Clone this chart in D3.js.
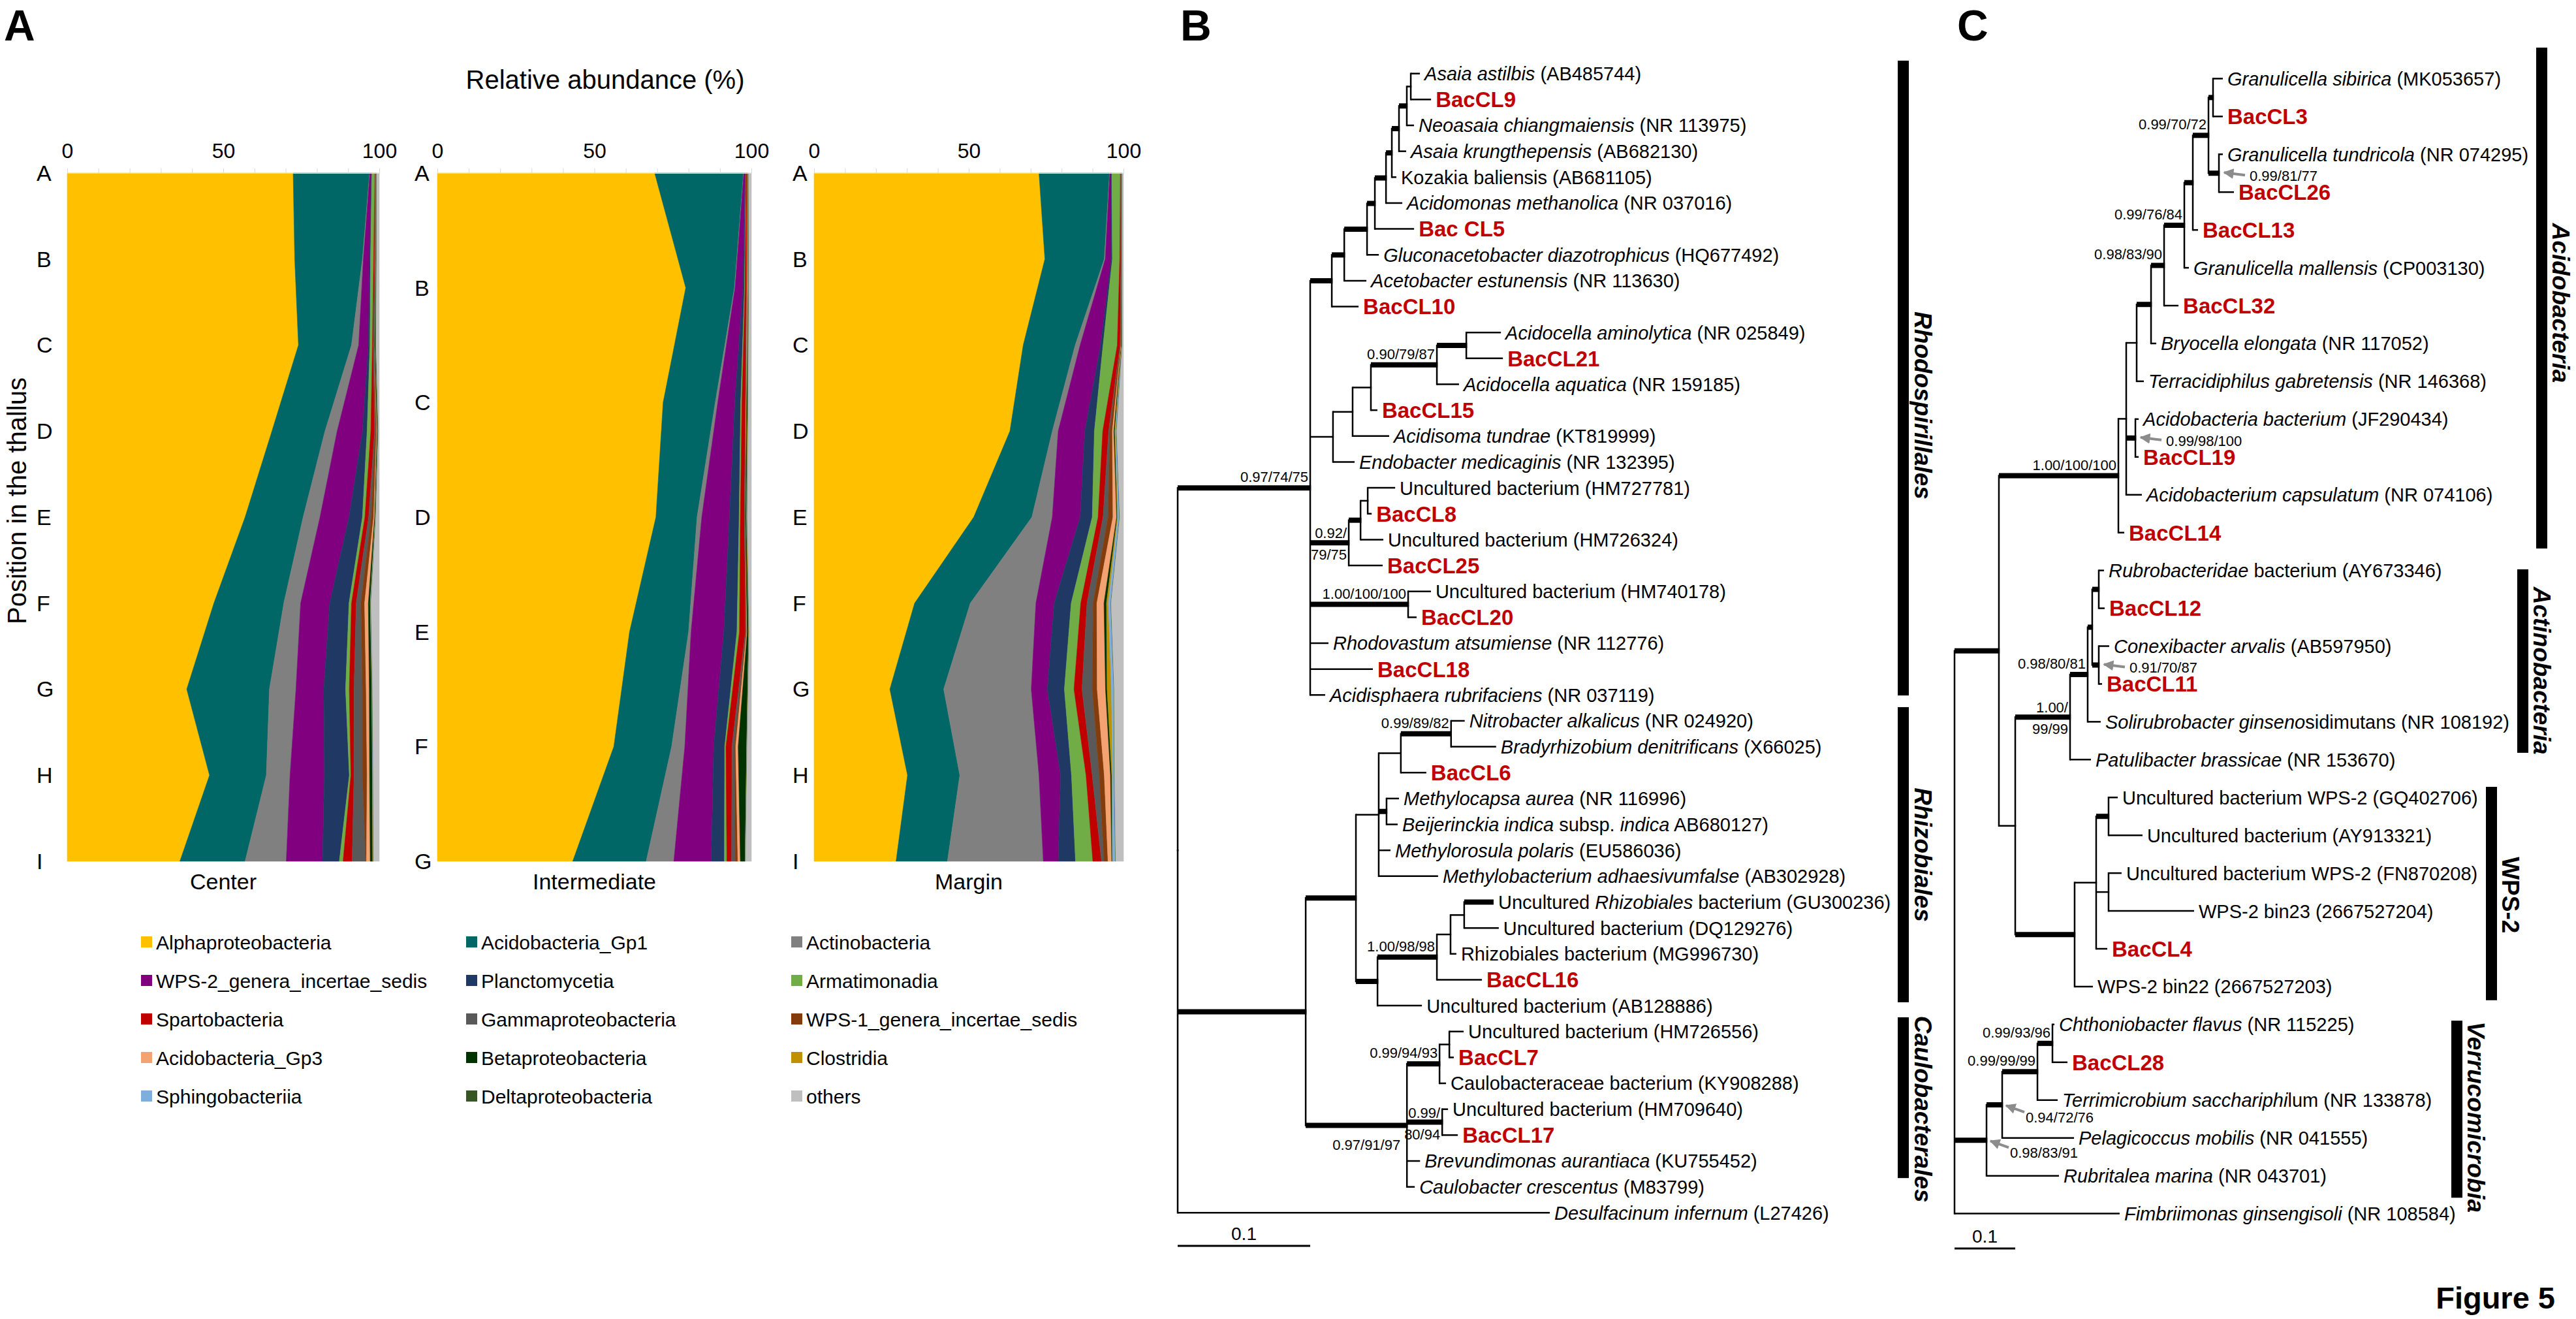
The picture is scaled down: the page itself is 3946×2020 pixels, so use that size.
<!DOCTYPE html>
<html><head><meta charset="utf-8">
<script src="https://cdn.jsdelivr.net/npm/d3@7"></script>
<style>body{margin:0;background:#fff;} svg{display:block;}</style>
</head><body>
<script>
// ================= DATA : panel A (relative abundance, %) =================
const categories = ["Alphaproteobacteria","Acidobacteria_Gp1","Actinobacteria","WPS-2_genera_incertae_sedis","Planctomycetia","Armatimonadia","Spartobacteria","Gammaproteobacteria","WPS-1_genera_incertae_sedis","Acidobacteria_Gp3","Betaproteobacteria","Clostridia","Sphingobacteriia","Deltaproteobacteria","others"];
const categoryColors = ["#FFC000","#006666","#808080","#800080","#1F3864","#70AD47","#C00000","#595959","#843C0C","#F4A272","#003300","#BF9000","#7FAEDC","#375623","#BFBFBF"];
const tickValues = [0, 50, 100];

const centerRows = ["A","B","C","D","E","F","G","H","I"];
const centerValues = [
  [72.4, 72.9, 74.1, 65.6, 57.0, 47.0, 38.3, 45.6, 36.1],
  [24.5, 21.7, 17.0, 17.0, 18.6, 22.4, 26.5, 18.2, 20.9],
  [0.1, 0.3, 2.3, 3.9, 5.4, 5.4, 8.5, 7.6, 13.2],
  [0.5, 2.0, 3.1, 8.1, 9.3, 9.3, 8.9, 11.0, 11.6],
  [0.1, 0.3, 0.5, 1.5, 4.3, 6.2, 7.0, 8.0, 5.4],
  [1.0, 1.0, 0.8, 1.2, 0.8, 0.8, 1.2, 0.5, 1.2],
  [0.1, 0.3, 0.3, 1.2, 1.2, 1.5, 1.5, 1.0, 2.9],
  [0.05, 0.1, 0.2, 0.3, 0.8, 1.5, 2.7, 2.7, 4.4],
  [0.05, 0.1, 0.1, 0.3, 0.8, 1.2, 1.2, 1.5, 0.2],
  [0.05, 0.05, 0.1, 0.2, 0.3, 1.2, 1.0, 0.8, 1.2],
  [0.1, 0.2, 0.3, 0.2, 0.2, 0.6, 0.8, 0.9, 0.8],
  [0.05, 0.05, 0.05, 0.05, 0.05, 0.05, 0.05, 0.05, 0.05],
  [0.05, 0.05, 0.05, 0.05, 0.05, 0.1, 0.1, 0.1, 0.1],
  [0.1, 0.1, 0.1, 0.1, 0.1, 0.1, 0.1, 0.1, 0.1],
  [0.85, 0.85, 1.0, 0.3, 1.1, 2.65, 2.15, 1.95, 1.85]
];

const intermediateRows = ["A","B","C","D","E","F","G"];
const intermediateValues = [
  [69.2, 79.1, 71.9, 69.6, 61.2, 56.2, 43.1],
  [28.3, 15.5, 16.6, 13.1, 18.8, 18.4, 23.4],
  [0.1, 0.2, 0.8, 1.5, 0.8, 4.2, 8.8],
  [0.4, 2.5, 5.4, 8.8, 10.4, 9.2, 11.9],
  [0.2, 0.5, 1.9, 3.1, 4.2, 3.5, 4.2],
  [0.1, 0.2, 0.4, 0.4, 0.8, 0.4, 0.8],
  [0.3, 0.4, 1.1, 1.3, 1.9, 1.9, 1.5],
  [0.05, 0.05, 0.1, 0.1, 0.2, 0.8, 1.2],
  [0.1, 0.2, 0.1, 0.1, 0.2, 0.4, 0.8],
  [0.1, 0.3, 0.2, 0.1, 0.2, 0.8, 0.8],
  [0.1, 0.1, 0.3, 0.3, 0.4, 2.7, 1.5],
  [0.05, 0.05, 0.1, 0.2, 0.1, 0.05, 0.05],
  [0.05, 0.05, 0.05, 0.05, 0.05, 0.05, 0.05],
  [0.05, 0.05, 0.05, 0.05, 0.05, 0.05, 0.05],
  [0.9, 0.8, 1.0, 1.3, 0.7, 1.35, 1.85]
];

const marginRows = ["A","B","C","D","E","F","G","H","I"];
const marginValues = [
  [72.7, 74.6, 67.6, 63.3, 51.6, 32.5, 24.5, 30.2, 26.5],
  [22.8, 19.2, 16.8, 13.7, 18.8, 18.0, 17.4, 16.9, 16.6],
  [0.1, 0.3, 1.6, 1.9, 6.6, 21.2, 28.3, 25.6, 31.0],
  [0.4, 2.0, 6.6, 8.6, 9.0, 5.9, 5.2, 7.0, 4.8],
  [0.2, 0.3, 0.8, 3.1, 3.9, 5.5, 5.5, 3.5, 5.6],
  [2.8, 2.4, 4.6, 2.7, 1.9, 3.1, 3.1, 4.7, 5.6],
  [0.1, 0.4, 0.9, 1.9, 1.6, 2.0, 2.6, 2.0, 2.8],
  [0.05, 0.05, 0.1, 0.4, 1.6, 2.0, 3.3, 2.3, 0.8],
  [0.2, 0.1, 0.2, 0.8, 1.6, 1.2, 1.6, 1.6, 1.3],
  [0.05, 0.05, 0.1, 0.5, 1.2, 2.3, 2.7, 2.0, 1.2],
  [0.05, 0.05, 0.1, 0.3, 0.2, 0.8, 0.5, 0.4, 0.2],
  [0.05, 0.05, 0.05, 0.2, 0.2, 0.6, 1.4, 0.3, 0.1],
  [0.05, 0.05, 0.05, 0.3, 0.5, 0.8, 0.8, 0.5, 0.9],
  [0.05, 0.05, 0.1, 0.1, 0.1, 0.1, 0.1, 0.1, 0.1],
  [0.4, 0.4, 0.4, 2.2, 1.2, 4.0, 3.0, 2.9, 2.5]
];
const panelTitles = ["Center", "Intermediate", "Margin"];

// ================= DATA : panels B and C (phylogenies, Newick) =================
// name prefix "!" = thick (supported) branch; "label@mode" = support value placement
const treeB = `(
(((((((((((
'*Asaia astilbis* (AB485744)':0.0069,'BacCL9':0.0153)'':0.0030,
'*Neoasaia chiangmaiensis* (NR 113975)':0.0054)'!':0.0059,
'*Asaia krungthepensis* (AB682130)':0.0054)'!':0.0054,
'Kozakia baliensis (AB681105)':0.0034)'!':0.0044,
'*Acidomonas methanolica* (NR 037016)':0.0123)'!':0.0084,
'Bac CL5':0.0296)'!':0.0059,
'*Gluconacetobacter diazotrophicus* (HQ677492)':0.0089)'!':0.0172,
'*Acetobacter estunensis* (NR 113630)':0.0167)'!':0.0094,
'BacCL10':0.0202)'!':0.0163,
(((((
'*Acidocella aminolytica*  (NR 025849)':0.0261,'BacCL21':0.0276)'!':0.0222,
'*Acidocella aquatica* (NR 159185)':0.0167)'!0.90/79/87@a':0.0498,
'BacCL15':0.0049)'':0.0138,
'*Acidisoma tundrae*  (KT819999)':0.0276)'':0.0148,
'*Endobacter medicaginis* (NR 132395)':0.0163)'':0.0172,
(((
'Uncultured bacterium (HM727781)':0.0207,'BacCL8':0.0030)'':0.0054,
'Uncultured bacterium (HM726324)':0.0172)'!':0.0089,
'BacCL25':0.0256)'!0.92/79/75@s':0.0291,
('Uncultured bacterium (HM740178)':0.0172,'BacCL20':0.0064)'!1.00/100/100@a':0.0739,
'*Rhodovastum atsumiense* (NR 112776)':0.0138,
'BacCL18':0.0473,
'*Acidisphaera rubrifaciens* (NR 037119)':0.0113)'!0.97/74/75@a':0.1000,
(((((
'*Nitrobacter alkalicus* (NR 024920)':0.0103,'*Bradyrhizobium denitrificans* (X66025)':0.0340)'!0.99/89/82@a':0.0379,
'BacCL6':0.0192)'':0.0167,
('*Methylocapsa aurea* (NR 116996)':0.0094,'*Beijerinckia indica* subsp. *indica* AB680127)':0.0084)'!':0.0059,
'*Methylorosula polaris* (EU586036)':0.0089,
'*Methylobacterium adhaesivumfalse* (AB302928)':0.0448)'':0.0172,
((((
'!Uncultured *Rhizobiales* bacterium (GU300236)':0.0222,'Uncultured bacterium (DQ129276)':0.0261)'':0.0103,
'Rhizobiales bacterium (MG996730)':0.0044)'':0.0103,
'BacCL16':0.0340)'!1.00/98/98@a':0.0448,
'Uncultured bacterium (AB128886)':0.0335)'!':0.0163)'!':0.0379,
(((
'Uncultured bacterium (HM726556)':0.0108,'BacCL7':0.0034)'':0.0074,
'Caulobacteraceae bacterium (KY908288)':0.0049)'!0.99/94/93@a':0.0246,
('Uncultured bacterium (HM709640)':0.0044,'BacCL17':0.0118)'!0.99/80/94@s':0.0266,
'*Brevundimonas aurantiaca* (KU755452)':0.0099,
'*Caulobacter crescentus* (M83799)':0.0059)'!0.97/91/97@b':0.0764)'!':0.0966,
'*Desulfacinum infernum* (L27426)':0.2808)`;

const treeC = `(
((((((((((
'*Granulicella sibirica* (MK053657)':0.0161,'BacCL3':0.0161)'!':0.0075,
('*Granulicella tundricola* (NR 074295)':0.0065,'BacCL26':0.0247)'!0.99/81/77@r':0.0172)'!0.99/70/72@a':0.0258,
'BacCL13':0.0086)'!':0.0140,
'*Granulicella mallensis* (CP003130)':0.0075)'!0.99/76/84@a':0.0333,
'BacCL32':0.0237)'!0.98/83/90@a':0.0215,
'*Bryocella elongata* (NR 117052)':0.0086)'!':0.0237,
'*Terracidiphilus gabretensis* (NR 146368)':0.0118)'':0.0172,
('*Acidobacteria bacterium* (JF290434)':0.0054,'BacCL19':0.0054)'!0.99/98/100@r':0.0151,
'*Acidobacterium capsulatum* (NR 074106)':0.0258)'':0.0129,
'BacCL14':0.0097)'!1.00/100/100@a':0.1968,
(((((
'*Rubrobacteridae* bacterium (AY673346)':0.0086,'BacCL12':0.0097)'!':0.0108,
('*Conexibacter arvalis* (AB597950)':0.0172,'BacCL11':0.0054)'!0.91/70/87@r':0.0108)'!':0.0075,
'*Solirubrobacter ginseno*sidimutans (NR 108192)':0.0215)'!0.98/80/81@a':0.0290,
'*Patulibacter brassicae* (NR 153670)':0.0344)'!1.00/99/99@s':0.0903,
(((
'Uncultured bacterium WPS-2 (GQ402706)':0.0151,'Uncultured bacterium (AY913321)':0.0559)'!':0.0204,
('Uncultured bacterium WPS-2 (FN870208)':0.0215,'WPS-2 bin23 (2667527204)':0.1409)'':0.0204,
'BacCL4':0.0183)'':0.0355,
'WPS-2 bin22 (2667527203)':0.0301)'!':0.0978)'':0.0269)'!':0.0731,
((((
'*Chthoniobacter flavus* (NR 115225)':0.0032,'BacCL28':0.0247)'!0.99/93/96@a':0.0247,
'*Terrimicrobium sacchariphi*lum (NR 133878)':0.0333)'!0.99/99/99@a':0.0581,
'*Pelagicoccus mobilis* (NR 041555)':0.1183)'!0.94/72/76@d':0.0258,
'*Rubritalea marina* (NR 043701)':0.1194)'!0.98/83/91@d':0.0527,
'*Fimbriimonas ginsengisoli* (NR 108584)':0.2720)`;

// clade bars: [name, first leaf position, last leaf position, label centre (leaf position), italic]
const cladesB = [["Rhodospirillales", -0.5, 24.02, 12.82, true], ["Rhizobiales", 24.47, 35.87, 30.17, true], ["Caulobacterales", 36.45, 42.66, 40.0, true]];
const cladesC = [["Acidobacteria", -0.82, 12.42, 5.93, true], ["Actinobacteria", 12.97, 17.82, 15.65, true], ["WPS-2", 18.72, 24.36, 21.58, false], ["Verrucomicrobia", 24.9, 29.58, 27.45, true]];

// ================= LAYOUT =================
const FONT = "'Liberation Sans', Arial, Helvetica, sans-serif";
const RED = "#C00000";
const svg = d3.select("body").append("svg").attr("width", 3946).attr("height", 2020)
  .attr("font-family", FONT);
svg.append("rect").attr("width", 3946).attr("height", 2020).attr("fill", "#fff");
const defs = svg.append("defs");
defs.append("marker").attr("id", "arr").attr("viewBox", "0 0 10 10").attr("refX", 9).attr("refY", 5)
  .attr("markerWidth", 4).attr("markerHeight", 4).attr("orient", "auto")
  .append("path").attr("d", "M0,0 L10,5 L0,10 z").attr("fill", "#8c8c8c");

// panel letters
[["A", 6], ["B", 1808], ["C", 2998]].forEach(([t, x]) =>
  svg.append("text").attr("x", x).attr("y", 62).attr("font-size", 66).attr("font-weight", "bold").text(t));
svg.append("text").attr("x", 3914).attr("y", 2004).attr("text-anchor", "end").attr("font-size", 47)
  .attr("font-weight", "bold").text("Figure 5");

// ---------- Panel A ----------
const plotTop = 265, plotBottom = 1319;
const panelLayout = [{x0: 103, x1: 581, labelX: 56}, {x0: 670, x1: 1151, labelX: 635}, {x0: 1247, x1: 1721, labelX: 1214}];
const panelRows = [centerRows, intermediateRows, marginRows];
const panelValues = [centerValues, intermediateValues, marginValues];

svg.append("text").attr("x", 927).attr("y", 136).attr("text-anchor", "middle").attr("font-size", 40)
  .text("Relative abundance (%)");
svg.append("text").attr("transform", "translate(40,767) rotate(-90)").attr("text-anchor", "middle")
  .attr("font-size", 40).text("Position in the thallus");

panelTitles.forEach((title, p) => {
  const L = panelLayout[p], rows = panelRows[p], vals = panelValues[p];
  const data = rows.map((r, j) => { const o = {row: r}; categories.forEach((c, k) => o[c] = vals[k][j]); return o; });
  const series = d3.stack().keys(categories)(data);
  const x = d3.scaleLinear().domain([0, 100]).range([L.x0, L.x1]);
  const y = d3.scalePoint().domain(rows).range([plotTop, plotBottom]);
  const area = d3.area().y(d => y(d.data.row)).x0(d => x(Math.min(100, d[0]))).x1(d => x(Math.min(100, d[1])));
  const g = svg.append("g");
  g.selectAll("path").data(series).join("path").attr("d", area).attr("fill", (d, i) => categoryColors[i])
    .attr("stroke", (d, i) => categoryColors[i]).attr("stroke-width", 0.6);
  const minor = g.append("g").attr("transform", `translate(0,${plotTop})`)
    .call(d3.axisTop(x).tickValues(d3.range(0, 101, 10)).tickSize(7).tickFormat(""));
  minor.selectAll("line,path").attr("stroke", "#d9d9d9");
  const ax = g.append("g").attr("transform", `translate(0,${plotTop})`)
    .call(d3.axisTop(x).tickValues(tickValues).tickSize(0).tickPadding(23));
  ax.select(".domain").remove();
  ax.selectAll("text").attr("font-size", 32).attr("font-family", FONT).attr("fill", "#000");
  g.selectAll("text.row").data(rows).join("text").attr("class", "row")
    .attr("x", L.labelX).attr("y", d => y(d)).attr("dy", "0.35em").attr("font-size", 34).text(d => d);
  g.append("text").attr("x", (L.x0 + L.x1) / 2).attr("y", 1362).attr("text-anchor", "middle")
    .attr("font-size", 34).text(title);
});

// legend
const legX = [216, 714, 1212];
const lg = svg.append("g");
categories.forEach((c, i) => {
  const cx = legX[i % 3], cy = 1443 + Math.floor(i / 3) * 59;
  lg.append("rect").attr("x", cx).attr("y", cy - 9).attr("width", 17).attr("height", 17).attr("fill", categoryColors[i]);
  lg.append("text").attr("x", cx + 23).attr("y", cy).attr("dy", "0.35em").attr("font-size", 30).text(c);
});

// ---------- Newick parser ----------
function parseNewick(str) {
  const s = str.replace(/\n\s*/g, "");
  let i = 0;
  function node() {
    const n = {};
    if (s[i] === "(") {
      n.children = []; i++;
      n.children.push(node());
      while (s[i] === ",") { i++; n.children.push(node()); }
      i++;
    }
    if (s[i] === "'") { const j = s.indexOf("'", i + 1); n.name = s.slice(i + 1, j); i = j + 1; }
    else { const m = /^[^:,();]*/.exec(s.slice(i)); n.name = m[0]; i += m[0].length; }
    if (s[i] === ":") { const m = /^[0-9.eE-]+/.exec(s.slice(i + 1)); n.length = +m[0]; i += 1 + m[0].length; }
    else n.length = 0;
    return n;
  }
  return node();
}

function richText(sel, label) {
  label.split("*").forEach((seg, k) => {
    if (!seg) return;
    sel.append("tspan").attr("font-style", k % 2 ? "italic" : "normal").text(seg);
  });
}

function drawTree(newick, xScale, yScale, clades, barX, labelOffset, scaleY) {
  const root = d3.hierarchy(parseNewick(newick), d => d.children);
  root.eachBefore(n => { n.dist = n.parent ? n.parent.dist + n.data.length : 0; });
  root.leaves().forEach((l, i) => l.yy = yScale(i));
  root.eachAfter(n => {
    n.xx = xScale(n.dist);
    if (n.children) n.yy = (n.children[0].yy + n.children[n.children.length - 1].yy) / 2;
    let nm = n.data.name || "";
    n.thick = nm.startsWith("!"); if (n.thick) nm = nm.slice(1);
    if (n.children) { const parts = nm.split("@"); n.support = parts[0] || null; n.mode = parts[1] || "a"; }
    else n.label = nm;
  });
  const g = svg.append("g");
  const nodes = root.descendants();
  g.append("g").selectAll("line").data(nodes.filter(n => n.parent)).join("line")
    .attr("x1", n => n.parent.xx).attr("x2", n => n.xx + (n.children ? 1.2 : 0))
    .attr("y1", n => n.yy).attr("y2", n => n.yy)
    .attr("stroke", "#000").attr("stroke-width", n => n.thick ? 8 : 2.5);
  g.append("g").selectAll("line").data(nodes.filter(n => n.children)).join("line")
    .attr("x1", n => n.xx).attr("x2", n => n.xx)
    .attr("y1", n => n.children[0].yy - 1.2).attr("y2", n => n.children[n.children.length - 1].yy + 1.2)
    .attr("stroke", "#000").attr("stroke-width", 2.5);
  g.append("g").selectAll("text").data(root.leaves()).join("text")
    .attr("x", n => n.xx + 7).attr("y", n => n.yy).attr("dy", "0.36em")
    .each(function (n) {
      const t = d3.select(this);
      if (/^Bac ?CL/.test(n.label)) t.attr("fill", RED).attr("font-weight", "bold").attr("font-size", 33).text(n.label);
      else { t.attr("font-size", 29); richText(t, n.label); }
    });
  const sg = g.append("g").attr("font-size", 22);
  nodes.filter(n => n.children && n.support).forEach(n => {
    const s = n.support;
    if (n.mode === "a") sg.append("text").attr("x", n.xx - 3).attr("y", n.yy - 9).attr("text-anchor", "end").text(s);
    else if (n.mode === "b") sg.append("text").attr("x", n.xx - 10).attr("y", n.yy + 38).attr("text-anchor", "end").text(s);
    else if (n.mode === "s") {
      const k = s.indexOf("/") + 1;
      sg.append("text").attr("x", n.xx - 3).attr("y", n.yy - 7).attr("text-anchor", "end").text(s.slice(0, k));
      sg.append("text").attr("x", n.xx - 3).attr("y", n.yy + 26).attr("text-anchor", "end").text(s.slice(k));
    } else if (n.mode === "r") {
      sg.append("line").attr("x1", n.xx + 40).attr("y1", n.yy + 3).attr("x2", n.xx + 8).attr("y2", n.yy - 1)
        .attr("stroke", "#8c8c8c").attr("stroke-width", 4).attr("marker-end", "url(#arr)");
      sg.append("text").attr("x", n.xx + 47).attr("y", n.yy + 12).text(s);
    } else if (n.mode === "d") {
      sg.append("line").attr("x1", n.xx + 34).attr("y1", n.yy + 11).attr("x2", n.xx + 6).attr("y2", n.yy + 1)
        .attr("stroke", "#8c8c8c").attr("stroke-width", 4).attr("marker-end", "url(#arr)");
      sg.append("text").attr("x", n.xx + 36).attr("y", n.yy + 27).text(s);
    }
  });
  clades.forEach(([name, a, b, c, ital], k) => {
    const bx = barX[k], y0 = yScale(a), y1 = yScale(b);
    g.append("rect").attr("x", bx).attr("y", y0).attr("width", 17).attr("height", y1 - y0).attr("fill", "#000");
    g.append("text").attr("transform", `translate(${bx + 8.5 + labelOffset},${yScale(c)}) rotate(90)`)
      .attr("text-anchor", "middle").attr("dy", "0.35em").attr("font-size", 37).attr("font-weight", "bold")
      .attr("font-style", ital ? "italic" : "normal").text(name);
  });
  g.append("line").attr("x1", xScale(0)).attr("x2", xScale(0.1)).attr("y1", scaleY).attr("y2", scaleY)
    .attr("stroke", "#000").attr("stroke-width", 3);
  g.append("text").attr("x", (xScale(0) + xScale(0.1)) / 2).attr("y", scaleY - 9).attr("text-anchor", "middle")
    .attr("font-size", 28).text("0.1");
}

drawTree(treeB, d3.scaleLinear().domain([0, 0.1]).range([1804, 2007]),
  d3.scaleLinear().domain([0, 44]).range([112.7, 1857.3]), cladesB, [2907, 2907, 2907], 30, 1908);
drawTree(treeC, d3.scaleLinear().domain([0, 0.1]).range([2994, 3087]),
  d3.scaleLinear().domain([0, 30]).range([120.4, 1858.6]), cladesC, [3885, 3856, 3808, 3755], 29, 1912);
</script>
</body></html>
